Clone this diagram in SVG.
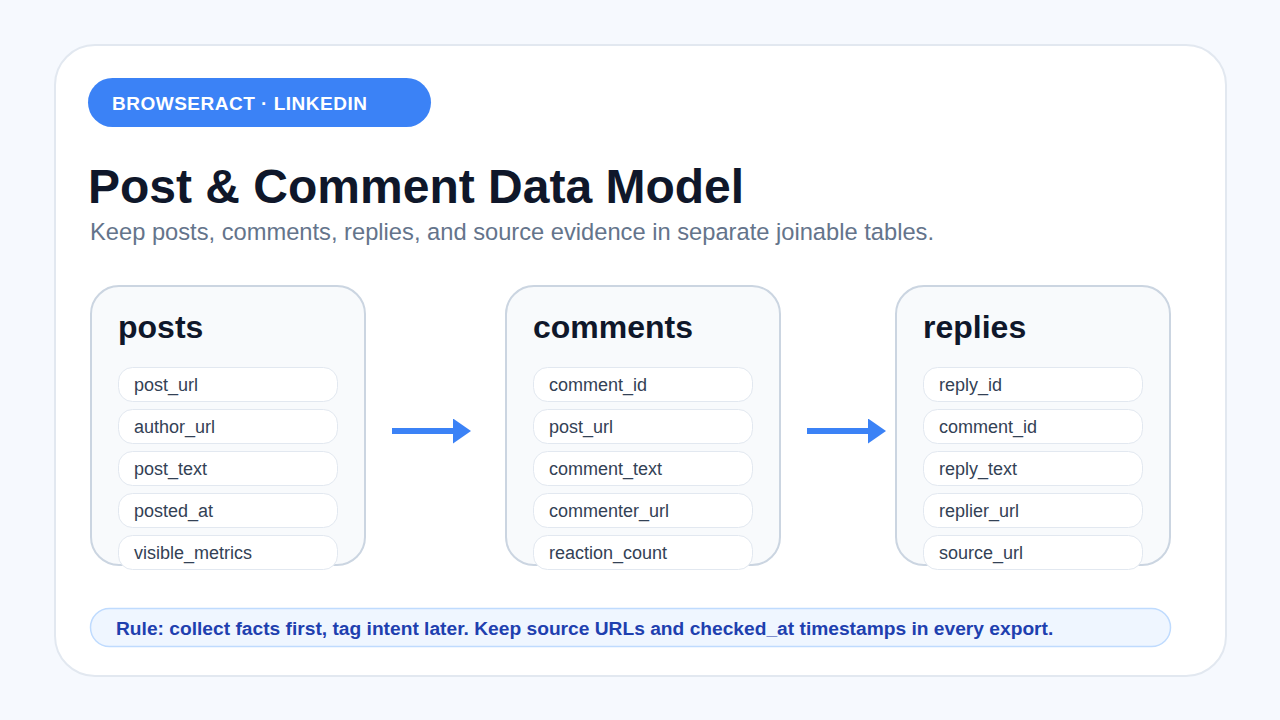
<svg xmlns="http://www.w3.org/2000/svg" width="1280" height="720" viewBox="0 0 1280 720">
<defs>
<style>
.bg{fill:#f6f9fe}
.frame{fill:#ffffff;stroke:#e2e8f0;stroke-width:2}
.pill{fill:#3b82f6}
.pilltxt{font-family:"Liberation Sans",Arial,sans-serif;font-size:19px;font-weight:bold;fill:#ffffff;letter-spacing:0.5px}
.title{font-family:"Liberation Sans",Arial,sans-serif;font-size:48px;font-weight:bold;fill:#0f172a}
.sub{font-family:"Liberation Sans",Arial,sans-serif;font-size:23.7px;fill:#64748b}
.card{fill:#f8fafc;stroke:#cbd5e1;stroke-width:2}
.ctitle{font-family:"Liberation Sans",Arial,sans-serif;font-size:32px;font-weight:bold;fill:#0f172a}
.row{fill:#ffffff;stroke:#e2e8f0;stroke-width:1}
.rtxt{font-family:"Liberation Sans",Arial,sans-serif;font-size:18px;fill:#334155}
.conn{stroke:#3b82f6;stroke-width:6;fill:none}
.rule{fill:#eff6ff;stroke:#bfdbfe;stroke-width:1.5}
.ruletxt{font-family:"Liberation Sans",Arial,sans-serif;font-size:19.2px;font-weight:bold;fill:#1e40af}
</style>
<marker id="ah" viewBox="0 0 18 25" refX="0" refY="12.5" markerWidth="18" markerHeight="25" markerUnits="userSpaceOnUse" orient="auto">
<path d="M0,0 L18,12.5 L0,25 Z" fill="#3b82f6"/>
</marker>
</defs>
<rect class="bg" x="0" y="0" width="1280" height="720"/>
<rect class="frame" x="55" y="45" width="1171" height="631" rx="40"/>
<g id="badge">
<rect class="pill" x="88" y="78" width="343" height="49" rx="24.5"/>
<text class="pilltxt" x="112" y="109.5">BROWSERACT · LINKEDIN</text>
</g>
<text class="title" x="88" y="203">Post &amp; Comment Data Model</text>
<text class="sub" x="90" y="240">Keep posts, comments, replies, and source evidence in separate joinable tables.</text>
<g id="connectors">
<line class="conn" x1="392" y1="431" x2="453" y2="431" marker-end="url(#ah)"/>
<line class="conn" x1="807" y1="431" x2="868" y2="431" marker-end="url(#ah)"/>
</g>
<g id="posts">
<rect class="card" x="91" y="286" width="274" height="279" rx="28"/>
<text class="ctitle" x="118" y="338">posts</text>
<rect class="row" x="118.5" y="367.5" width="219" height="34" rx="14"/>
<text class="rtxt" x="134" y="391">post_url</text>
<rect class="row" x="118.5" y="409.5" width="219" height="34" rx="14"/>
<text class="rtxt" x="134" y="433">author_url</text>
<rect class="row" x="118.5" y="451.5" width="219" height="34" rx="14"/>
<text class="rtxt" x="134" y="475">post_text</text>
<rect class="row" x="118.5" y="493.5" width="219" height="34" rx="14"/>
<text class="rtxt" x="134" y="517">posted_at</text>
<rect class="row" x="118.5" y="535.5" width="219" height="34" rx="14"/>
<text class="rtxt" x="134" y="559">visible_metrics</text>
</g>
<g id="comments">
<rect class="card" x="506" y="286" width="274" height="279" rx="28"/>
<text class="ctitle" x="533" y="338">comments</text>
<rect class="row" x="533.5" y="367.5" width="219" height="34" rx="14"/>
<text class="rtxt" x="549" y="391">comment_id</text>
<rect class="row" x="533.5" y="409.5" width="219" height="34" rx="14"/>
<text class="rtxt" x="549" y="433">post_url</text>
<rect class="row" x="533.5" y="451.5" width="219" height="34" rx="14"/>
<text class="rtxt" x="549" y="475">comment_text</text>
<rect class="row" x="533.5" y="493.5" width="219" height="34" rx="14"/>
<text class="rtxt" x="549" y="517">commenter_url</text>
<rect class="row" x="533.5" y="535.5" width="219" height="34" rx="14"/>
<text class="rtxt" x="549" y="559">reaction_count</text>
</g>
<g id="replies">
<rect class="card" x="896" y="286" width="274" height="279" rx="28"/>
<text class="ctitle" x="923" y="338">replies</text>
<rect class="row" x="923.5" y="367.5" width="219" height="34" rx="14"/>
<text class="rtxt" x="939" y="391">reply_id</text>
<rect class="row" x="923.5" y="409.5" width="219" height="34" rx="14"/>
<text class="rtxt" x="939" y="433">comment_id</text>
<rect class="row" x="923.5" y="451.5" width="219" height="34" rx="14"/>
<text class="rtxt" x="939" y="475">reply_text</text>
<rect class="row" x="923.5" y="493.5" width="219" height="34" rx="14"/>
<text class="rtxt" x="939" y="517">replier_url</text>
<rect class="row" x="923.5" y="535.5" width="219" height="34" rx="14"/>
<text class="rtxt" x="939" y="559">source_url</text>
</g>
<g id="rule">
<rect class="rule" x="90.5" y="608.5" width="1080" height="38" rx="19"/>
<text class="ruletxt" x="116" y="635">Rule: collect facts first, tag intent later. Keep source URLs and checked_at timestamps in every export.</text>
</g>
</svg>
